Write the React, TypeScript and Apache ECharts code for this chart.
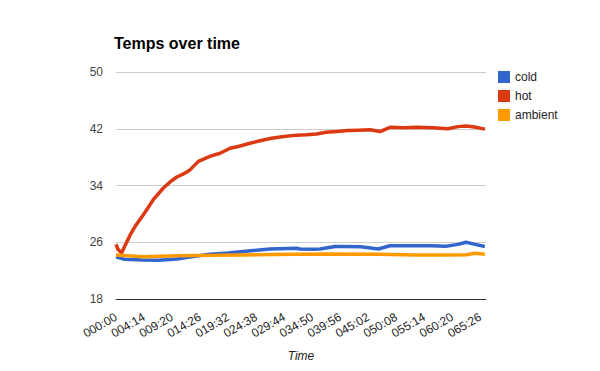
import React, { useEffect, useRef } from "react";
import * as echarts from "echarts";

// x positions are in tick-label units (0 = "000:00", 13 = "065:26")
const tickLabels = [
  "000:00", "004:14", "009:20", "014:26", "019:32", "024:38", "029:44",
  "034:50", "039:56", "045:02", "050:08", "055:14", "060:20", "065:26",
];

const seriesNames = ["cold", "hot", "ambient"];
const seriesColors = ["#3366cc", "#dc3912", "#ff9900"];

const coldData: [number, number][] = [
  [0, 23.95], [0.3, 23.6], [0.96, 23.5], [1.52, 23.45], [2.17, 23.65],
  [2.75, 24.0], [3.35, 24.3], [4.0, 24.5], [4.53, 24.7], [5.49, 25.05],
  [6.45, 25.15], [6.56, 25.05], [7.03, 25.0], [7.28, 25.05], [7.81, 25.4],
  [8.11, 25.4], [8.74, 25.35], [9.36, 25.05], [9.77, 25.5], [10.45, 25.5],
  [11.27, 25.5], [11.77, 25.45], [12.2, 25.7], [12.49, 26.0], [12.81, 25.7],
  [13.16, 25.4],
];

const hotData: [number, number][] = [
  [0, 25.7], [0.07, 25.0], [0.2, 24.5], [0.32, 25.5], [0.5, 27.0],
  [0.71, 28.4], [0.97, 29.85], [1.33, 32.0], [1.69, 33.65], [1.93, 34.5],
  [2.17, 35.2], [2.39, 35.6], [2.64, 36.2], [2.94, 37.4], [3.35, 38.1],
  [3.71, 38.55], [4.07, 39.25], [4.36, 39.5], [4.78, 39.95], [5.14, 40.3],
  [5.55, 40.65], [5.99, 40.9], [6.45, 41.1], [6.78, 41.15], [7.16, 41.25],
  [7.49, 41.5], [7.87, 41.6], [8.28, 41.75], [8.64, 41.8], [9.06, 41.85],
  [9.42, 41.6], [9.77, 42.2], [10.27, 42.15], [10.73, 42.2], [11.31, 42.15],
  [11.84, 42.0], [12.2, 42.3], [12.51, 42.4], [12.84, 42.2], [13.16, 41.95],
];

const ambientData: [number, number][] = [
  [0, 24.2], [0.96, 23.97], [2.17, 24.1], [3.5, 24.15], [4.53, 24.2],
  [6.45, 24.3], [7.5, 24.35], [9.36, 24.3], [10.7, 24.2], [11.7, 24.2],
  [12.5, 24.25], [12.8, 24.45], [13.16, 24.3],
];

const yBase = 18;
const yTop = 50;
const yStep = 8;
const xEnd = 13.2;

const FONT = "'Liberation Sans', Arial, sans-serif";

export default function App() {
  const ref = useRef<HTMLDivElement>(null);
  useEffect(() => {
    if (!ref.current) return;
    const chart = echarts.init(ref.current, null, { renderer: "svg" });
    const all = [coldData, hotData, ambientData];
    chart.setOption({
      animation: false,
      textStyle: { fontFamily: FONT },
      title: {
        text: "Temps over time",
        left: 114,
        top: 35,
        padding: 0,
        textStyle: { fontFamily: FONT, fontSize: 16, fontWeight: "bold", color: "#000" },
      },
      legend: {
        orient: "vertical",
        left: 498,
        top: 71,
        padding: 0,
        itemWidth: 12,
        itemHeight: 12,
        itemGap: 7,
        icon: "rect",
        data: seriesNames,
        textStyle: { fontFamily: FONT, fontSize: 12, color: "#222", padding: [0, 0, 0, 0] },
      },
      grid: { left: 116, right: 114, top: 72, bottom: 72, containLabel: false },
      xAxis: {
        type: "value",
        min: 0,
        max: xEnd,
        interval: 1,
        name: "Time",
        nameLocation: "middle",
        nameGap: 51,
        nameTextStyle: { fontFamily: FONT, fontSize: 12, fontStyle: "italic", color: "#222" },
        axisLine: { show: true, lineStyle: { color: "#333", width: 1 } },
        axisTick: { show: false },
        splitLine: { show: false },
        axisLabel: {
          rotate: 30,
          margin: 17,
          fontFamily: FONT,
          fontSize: 12,
          color: "#222",
          showMaxLabel: false,
          formatter: (v: number) => {
            const i = Math.round(v);
            return Math.abs(v - i) < 1e-6 && tickLabels[i] ? tickLabels[i] : "";
          },
        },
      },
      yAxis: {
        type: "value",
        min: 0,
        max: yTop - yBase,
        interval: yStep,
        axisLine: { show: false },
        axisTick: { show: false },
        splitLine: { show: true, lineStyle: { color: "#cccccc", width: 1 } },
        axisLabel: {
          margin: 13,
          fontFamily: FONT,
          fontSize: 12,
          color: "#444",
          formatter: (v: number) => String(v + yBase),
        },
      },
      series: seriesNames.map((name, k) => ({
        name,
        type: "line",
        data: all[k].map(([x, y]) => [x, y - yBase]),
        showSymbol: false,
        symbol: "none",
        color: seriesColors[k],
        lineStyle: { width: 3.5, color: seriesColors[k] },
        z: k === 1 ? 3 : k === 2 ? 4 : 2,
      })),
    });
    return () => chart.dispose();
  }, []);
  return <div ref={ref} style={{ width: 600, height: 371, margin: -8 }} />;
}
